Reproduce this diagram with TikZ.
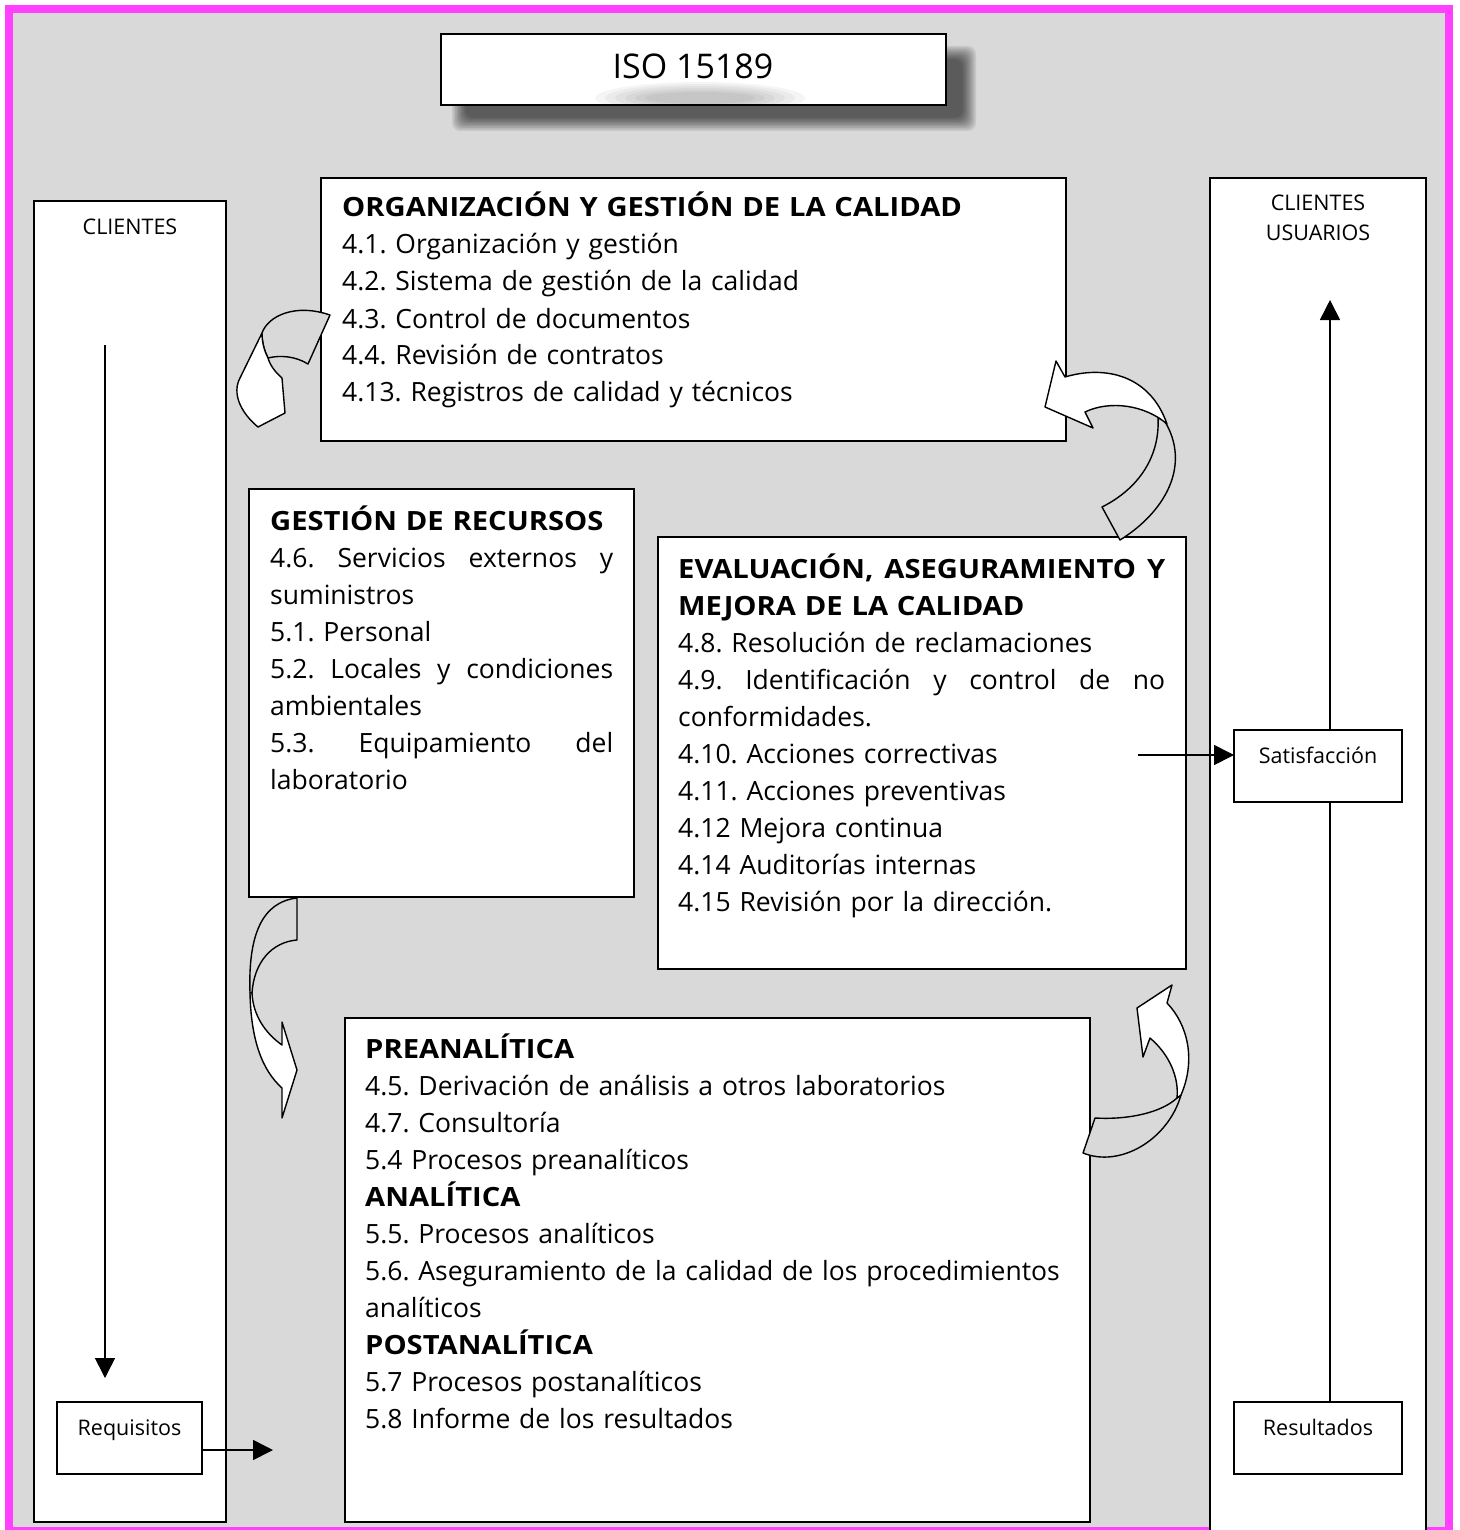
\documentclass[tikz,border=0pt]{standalone}
\usepackage{fontspec}
\setmainfont{Open Sans}[BoldFeatures={FakeStretch=1.1}]
\usetikzlibrary{arrows.meta}
\definecolor{bggray}{HTML}{D9D9D9}
\definecolor{pinkb}{HTML}{FF40FF}
\frenchspacing
\begin{document}
\begin{tikzpicture}[x=1pt,y=-1pt,
  bx/.style={draw, line width=1.6pt, fill=white, inner sep=0pt, outer sep=0pt, anchor=north west},
  txt/.style={inner sep=0pt, anchor=base west, align=left, font=\fontsize{26.5}{37}\selectfont},
  sm/.style={inner sep=0pt, anchor=base, text width=200pt, align=center, font=\fontsize{21.5}{30}\selectfont},
  arr/.style={line width=1.6pt, -{Triangle[length=20pt,width=20pt]}},
  band/.style={draw, line width=1.4pt, fill=bggray, line join=round},
  headpart/.style={draw, line width=1.4pt, fill=white, line join=round}]
\useasboundingbox (0,0) rectangle (1459,1530);
\clip (0,0) rectangle (1459,1530);
% background and border
\path[fill=bggray] (9,9) rectangle (1449,1531);
\draw[pinkb, line width=8pt] (9,9) rectangle (1449,1531);

% ISO title with shadow
\foreach \i in {0,...,9}{
  \fill[black, opacity=0.08, rounded corners=8pt] (452+\i*1.5,46+\i*1.5) rectangle (976-\i*1.5,131-\i*1.5);
}
\node[bx, minimum width=505pt, minimum height=71pt] (iso) at (441,34) {};
\begin{scope}
  \clip (441,34) rectangle (946,105);
  \foreach \i in {0,...,5}{
    \fill[black, opacity=0.04] (700,98) ellipse [x radius=105-10*\i, y radius=16-2*\i];
  }
\end{scope}
\node[inner sep=0pt, anchor=base, font=\fontsize{34}{40}\selectfont] (isot) at (693,79) {ISO 15189};

% side columns
\node[bx, minimum width=192pt, minimum height=1321pt] (cl) at (34,201) {};
\node[sm] (clt) at (130,235) {CLIENTES};
\node[bx, minimum width=216pt, minimum height=1362pt] (cu) at (1210,178) {};
\node[sm] (cut) at (1318,211) {CLIENTES\\USUARIOS};

% main boxes
\node[bx, minimum width=745pt, minimum height=263pt] (org) at (321,178) {};
\node[txt, text width=700pt] (orgt) at (342,217) {\textbf{ORGANIZACIÓN Y GESTIÓN DE LA CALIDAD}\\4.1. Organización y gestión\\4.2. Sistema de gestión de la calidad\\4.3. Control de documentos\\4.4. Revisión de contratos\\4.13. Registros de calidad y técnicos};

\node[bx, minimum width=385pt, minimum height=408pt] (rec) at (249,489) {};
\node[txt, text width=343pt] (rect) at (270,530) {\textbf{GESTIÓN DE RECURSOS}\\\makebox[343pt][l]{4.6.\hfill Servicios\hfill externos\hfill y}\\suministros\\5.1. Personal\\\makebox[343pt][l]{5.2.\hfill Locales\hfill y\hfill condiciones}\\ambientales\\\makebox[343pt][l]{5.3.\hfill Equipamiento\hfill del}\\laboratorio};

\node[bx, minimum width=528pt, minimum height=432pt] (eva) at (658,537) {};
\node[txt, text width=487pt] (evat) at (678,578) {\makebox[487pt][l]{\textbf{EVALUACIÓN,\hfill ASEGURAMIENTO\hfill Y}}\\\textbf{MEJORA DE LA CALIDAD}\\4.8. Resolución de reclamaciones\\\makebox[487pt][l]{4.9.\hfill Identificación\hfill y\hfill control\hfill de\hfill no}\\conformidades.\\4.10. Acciones correctivas\\4.11. Acciones preventivas\\4.12 Mejora continua\\4.14 Auditorías internas\\4.15 Revisión por la dirección.};

\node[bx, minimum width=745pt, minimum height=504pt] (pre) at (345,1018) {};
\node[txt, text width=720pt] (pret) at (365,1058) {\textbf{PREANALÍTICA}\\4.5. Derivación de análisis a otros laboratorios\\4.7. Consultoría\\5.4 Procesos preanalíticos\\\textbf{ANALÍTICA}\\5.5. Procesos analíticos\\5.6. Aseguramiento de la calidad de los procedimientos\\analíticos\\\textbf{POSTANALÍTICA}\\5.7 Procesos postanalíticos\\5.8 Informe de los resultados};

% left flow
\coordinate (clTop) at (105,345);
\coordinate (clTip) at (105,1378);
\draw[arr] (clTop) -- (clTip);
\node[bx, minimum width=145pt, minimum height=72pt] (req) at (57,1402) {};
\node[sm] (reqt) at (129.5,1435) {Requisitos};
\coordinate (reqTip) at (273,1450);
\draw[arr] (req.east |- reqTip) -- (reqTip);

% right flow
\node[bx, minimum width=168pt, minimum height=72pt] (res) at (1234,1402) {};
\node[sm] (rest) at (1318,1435) {Resultados};
\coordinate (resTip) at (1330,300);
\draw[arr] (res.north -| resTip) -- (resTip);
\node[bx, minimum width=168pt, minimum height=72pt] (sat) at (1234,730) {};
\node[sm] (satt) at (1318,763) {Satisfacción};
\coordinate (satStart) at (1138,755);
\draw[arr] (satStart) -- (satStart -| sat.west);

% curved block arrows
% A: left of organisation box
\path[band] (262,333) .. controls (268,316) and (295,303) .. (330,315) -- (308,364) .. controls (295,356) and (280,355) .. (268,358) .. controls (264,350) and (262,342) .. (262,333) -- cycle;
\path[headpart] (262,333) -- (240,378) .. controls (232,393) and (240,412) .. (258,427) -- (285,413) -- (282,378) .. controls (275,372) and (270,365) .. (268,358) .. controls (264,350) and (262,342) .. (262,333) -- cycle;
% B: right of organisation box
\path[band] (1158,418) .. controls (1160,455) and (1140,488) .. (1102,507) -- (1120,540) .. controls (1165,512) and (1192,465) .. (1164,420) -- cycle;
\path[headpart] (1045,407) -- (1056,361) -- (1065,377) .. controls (1105,365) and (1150,375) .. (1167,424) .. controls (1145,405) and (1110,400) .. (1085,412) -- (1093,428) -- cycle;
% C: below resources box
\path[band] (297,898) -- (297,940) .. controls (272,942) and (254,962) .. (252,993) -- (250,993) .. controls (248,935) and (262,902) .. (297,898) -- cycle;
\path[headpart] (250,993) .. controls (251,1040) and (262,1070) .. (282,1088) -- (282,1118) -- (297,1070) -- (282,1022) -- (282,1045) .. controls (265,1033) and (253,1015) .. (252,993) -- cycle;
% D: right of analytic box
\path[band] (1083,1153) -- (1095,1118) .. controls (1130,1120) and (1162,1112) .. (1177,1098) -- (1181,1095) .. controls (1168,1140) and (1120,1168) .. (1083,1153) -- cycle;
\path[headpart] (1181,1095) .. controls (1196,1060) and (1188,1025) .. (1167,1003) -- (1172,985) -- (1137,1008) -- (1143,1057) -- (1150,1038) .. controls (1170,1055) and (1179,1078) .. (1177,1098) -- cycle;
\end{tikzpicture}
\end{document}
